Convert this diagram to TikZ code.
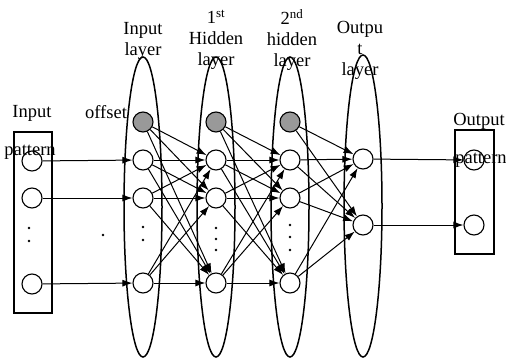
\documentclass[tikz,border=0pt]{standalone}
\usepackage{fontspec}
\setmainfont{Liberation Serif}
\usetikzlibrary{arrows.meta}

\begin{document}
\begin{tikzpicture}[
  x=1pt, y=-1pt,
  neuron/.style={draw=black, circle, line width=1.1pt, minimum size=20pt, inner sep=0pt},
  bias/.style={neuron, fill=black!40},
  layer/.style={draw=black, line width=1.5pt},
  frame/.style={draw=black, line width=1.2pt},
  lbl/.style={align=center, font=\fontsize{18.5}{21}\selectfont, inner sep=0pt},
  arr/.style={-{Latex[length=10pt, width=7pt]}, line width=1pt}
]
\useasboundingbox (0,0) rectangle (506,359);

% layer outlines and pattern boxes
\draw[layer] (143,207) ellipse [x radius=19pt, y radius=150pt];
\draw[layer] (216,207) ellipse [x radius=19pt, y radius=150pt];
\draw[layer] (290,207) ellipse [x radius=19pt, y radius=150pt];
\draw[layer] (363,206) ellipse [x radius=19pt, y radius=151pt];
\draw[frame] (14,132) rectangle (52,313);
\draw[frame] (455,130) rectangle (494,254);

% labels
\node[lbl] (lblin) at (143,41) {Input\\layer};
\node[lbl] (lblha) at (216,40) {1\textsuperscript{st}\\Hidden\\layer};
\node[lbl] (lblhb) at (292,40) {2\textsuperscript{nd}\\hidden\\layer};
\node[lbl] (lblout) at (360,50) {Outpu\\t\\layer};
\node[lbl] (lblpin) at (32,113) {Input};
\node[lbl] (lblpatin) at (30,152) {pattern};
\node[lbl] (lbloff) at (106,112) {offset};
\node[lbl] (lblpout) at (479,121) {Output};
\node[lbl] (lblpatout) at (481,160) {pattern};

% input pattern
\node[neuron] (pi1) at (32,161) {};
\node[neuron] (pi2) at (32,198) {};
\node[neuron] (pi3) at (32,284) {};
% input layer
\node[bias] (il0) at (143,122) {};
\node[neuron] (il1) at (143,160) {};
\node[neuron] (il2) at (143,198) {};
\node[neuron] (il3) at (143,283) {};
% 1st hidden layer
\node[bias] (ha0) at (216,122) {};
\node[neuron] (ha1) at (216,160) {};
\node[neuron] (ha2) at (216,198) {};
\node[neuron] (ha3) at (216,283) {};
% 2nd hidden layer
\node[bias] (hb0) at (290,122) {};
\node[neuron] (hb1) at (290,160) {};
\node[neuron] (hb2) at (290,198) {};
\node[neuron] (hb3) at (290,283) {};
% output layer
\node[neuron] (ol1) at (363,159) {};
\node[neuron] (ol2) at (363,225) {};
% output pattern
\node[neuron] (po1) at (474,160) {};
\node[neuron] (po2) at (474,225) {};

% dots
\foreach \px/\py in {29/228, 29/241, 103/235, 143/227, 143/240,
                     216/228, 216/239, 216/250, 290/225, 290/237, 290/250}
  \fill (\px,\py) circle [radius=1.4pt];

% connections
\draw[arr] (pi1) -- (il1);
\draw[arr] (pi2) -- (il2);
\draw[arr] (pi3) -- (il3);
\foreach \s in {il0,il1,il2,il3}
  \foreach \t in {ha1,ha2,ha3}
    \draw[arr] (\s) -- (\t);
\foreach \s in {ha0,ha1,ha2,ha3}
  \foreach \t in {hb1,hb2,hb3}
    \draw[arr] (\s) -- (\t);
\foreach \s in {hb0,hb1,hb2,hb3}
  \foreach \t in {ol1,ol2}
    \draw[arr] (\s) -- (\t);
\draw[arr] (ol1) -- (po1);
\draw[arr] (ol2) -- (po2);
\end{tikzpicture}
\end{document}
